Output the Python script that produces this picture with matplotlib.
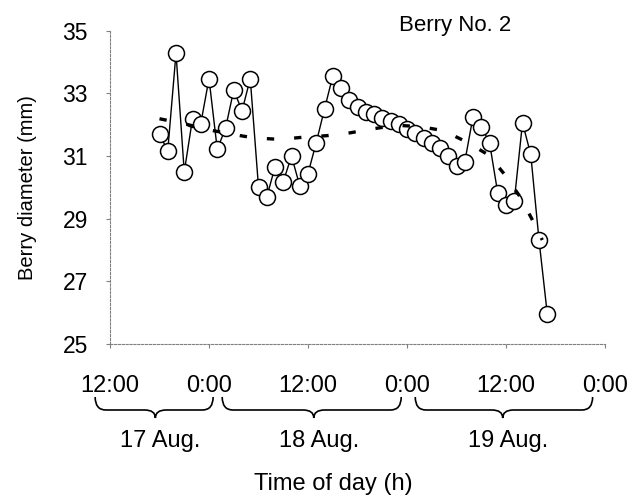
import matplotlib
matplotlib.use("Agg")
import matplotlib.pyplot as plt
import matplotlib.transforms as mtransforms
from matplotlib.path import Path
from matplotlib.patches import PathPatch

plt.rcParams['font.family'] = ['Liberation Sans', 'DejaVu Sans']

# ---- data ----
hours = list(range(6, 54))  # hours after 12:00 on 17 Aug
diameter = [31.69, 31.17, 34.28, 30.49, 32.19, 32.03, 33.47, 31.22, 31.88, 33.11,
            32.44, 33.47, 30.01, 29.69, 30.65, 30.18, 31.00, 30.05, 30.44, 31.43,
            32.50, 33.55, 33.16, 32.80, 32.55, 32.42, 32.35, 32.22, 32.13, 32.01,
            31.87, 31.72, 31.57, 31.42, 31.26, 31.01, 30.69, 30.81, 32.25, 31.94,
            31.43, 29.82, 29.45, 29.56, 32.06, 31.05, 28.32, 25.97]

trend_hours = [6.0, 9.3, 12.1, 14.9, 17.4, 20.6, 23.4, 26.3, 29.1, 31.9, 34.8,
               37.6, 40.4, 43.3, 45.9, 47.9, 49.7, 51.1, 52.4]
trend_vals = [32.19, 32.01, 31.83, 31.69, 31.58, 31.53, 31.60, 31.65, 31.74, 31.87,
              31.98, 31.94, 31.81, 31.44, 31.03, 30.39, 29.70, 29.01, 28.32]

xtick_pos = [0, 12, 24, 36, 48, 60]
xtick_labels = ["12:00", "0:00", "12:00", "0:00", "12:00", "0:00"]
ytick_pos = [25, 27, 29, 31, 33, 35]

day_labels = ["17 Aug.", "18 Aug.", "19 Aug."]
brace_start = [-1.8, 13.6, 37.0]
brace_tip = [5.5, 24.7, 47.6]
brace_end = [12.5, 35.3, 58.5]

title = "Berry No. 2"

# ---- figure ----
W, H = 632, 498
fig = plt.figure(figsize=(W / 100, H / 100), dpi=100)
ax = fig.add_axes([110 / W, 1 - 344 / H, (605 - 110) / W, (344 - 30.7) / H])

ax.plot(hours, diameter, color='black', lw=1.0, zorder=2,
        marker='o', markersize=11.5, markerfacecolor='white',
        markeredgecolor='black', markeredgewidth=1.1)
ax.plot(trend_hours, trend_vals, color='black', lw=2.4, zorder=3,
        linestyle=(0, (2.2, 6.0)), dash_capstyle='butt')

ax.set_xlim(0, 60)
ax.set_ylim(25, 35)
ax.set_xticks(xtick_pos)
ax.set_xticklabels(xtick_labels)
ax.set_yticks(ytick_pos)
ax.set_yticklabels([str(v) for v in ytick_pos])

for side in ['top', 'right']:
    ax.spines[side].set_visible(False)
for side in ['left', 'bottom']:
    ax.spines[side].set_color('#808080')
    ax.spines[side].set_linewidth(0.8)
    ax.spines[side].set_linestyle((0, (2, 1.5)))

ax.tick_params(axis='both', direction='out', length=3, width=0.8, color='#808080')
ax.tick_params(axis='x', pad=19, labelsize=17)
ax.tick_params(axis='y', pad=13, labelsize=16.5)

ax.set_ylabel("Berry diameter (mm)", fontsize=14.5)
ax.yaxis.set_label_coords((37 - 110) / (605 - 110), 0.5)

fig.text(455 / W, 1 - 26 / H, title, fontsize=16, ha='center', va='center')

# braces: x in data coords, y in figure pixels
trans = mtransforms.blended_transform_factory(ax.transData, mtransforms.IdentityTransform())
text_trans = mtransforms.blended_transform_factory(ax.transData, fig.transFigure)

def ypx(y):
    return H - y

top, mid, tipy = 397, 410, 418
r = 1.3  # hours for curl
for x0, xt, x1, lab in zip(brace_start, brace_tip, brace_end, day_labels):
    verts = [
        (x0, ypx(top)), (x0, ypx(mid)), (x0 + r, ypx(mid)),
        (xt - r, ypx(mid)), (xt, ypx(mid)), (xt, ypx(tipy)),
        (xt, ypx(mid)), (xt + r, ypx(mid)),
        (x1 - r, ypx(mid)), (x1, ypx(mid)), (x1, ypx(top)),
    ]
    codes = [Path.MOVETO, Path.CURVE3, Path.CURVE3,
             Path.LINETO, Path.CURVE3, Path.CURVE3,
             Path.CURVE3, Path.CURVE3,
             Path.LINETO, Path.CURVE3, Path.CURVE3]
    patch = PathPatch(Path(verts, codes), facecolor='none', edgecolor='black',
                      lw=1.2, transform=trans, clip_on=False)
    fig.add_artist(patch)
    fig.text(xt + 0.6, 1 - 441 / H, lab, fontsize=17, ha='center', va='center',
             transform=text_trans)

fig.text(333 / W, 1 - 484 / H, "Time of day (h)", fontsize=17, ha='center', va='center')

fig.savefig("out.png", dpi=100)
